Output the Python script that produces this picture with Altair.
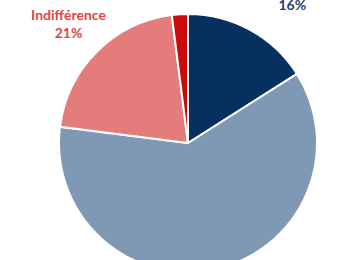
import altair as alt
import pandas as pd

categories = ["Adhésion", "Intérêt", "Indifférence", "Rejet"]
values = [16, 61, 21, 2]
colors = ["#06305f", "#7f98b3", "#e47c7c", "#cc0a0a"]
order = [0, 1, 2, 3]

df = pd.DataFrame({"cat": categories, "val": values, "ord": order,
                   "label": [f"{c}\n{v}%" for c, v in zip(categories, values)]})

cx, cy = 188, 143

pie = alt.Chart(df).mark_arc(outerRadius=129, stroke="white", strokeWidth=2).encode(
    theta=alt.Theta("val:Q", stack=True),
    order=alt.Order("ord:Q"),
    x=alt.value(cx), y=alt.value(cy),
    color=alt.Color("cat:N", scale=alt.Scale(domain=categories, range=colors), legend=None),
)

lab_base = alt.Chart(df).transform_stack(
    stack="val", groupby=[], as_=["s0", "s1"], sort=[alt.SortField("ord")]
).transform_calculate(mid="(datum.s0 + datum.s1) / 2").encode(
    theta=alt.Theta("mid:Q", scale=alt.Scale(domain=[0, 100])),
    x=alt.value(cx), y=alt.value(cy),
    text=alt.Text("label:N"),
)

lab_font = dict(font="Lato", fontWeight="bold", fontSize=14, lineBreak="\n", lineHeight=18)

lab1 = lab_base.transform_filter(alt.datum.cat == "Adhésion").mark_text(
    radius=175, dx=20, dy=-2, color="#1f3f6e", **lab_font)

lab2 = lab_base.transform_filter(alt.datum.cat == "Indifférence").mark_text(
    radius=169, dy=-7, color="#e04444", **lab_font)

chart = alt.layer(pie, lab1, lab2).properties(
    width=350, height=260, padding=0, autosize=alt.AutoSizeParams(type="none")
).configure_view(stroke=None)

chart.save("out.html", embed_options={"renderer": "svg", "actions": False})
